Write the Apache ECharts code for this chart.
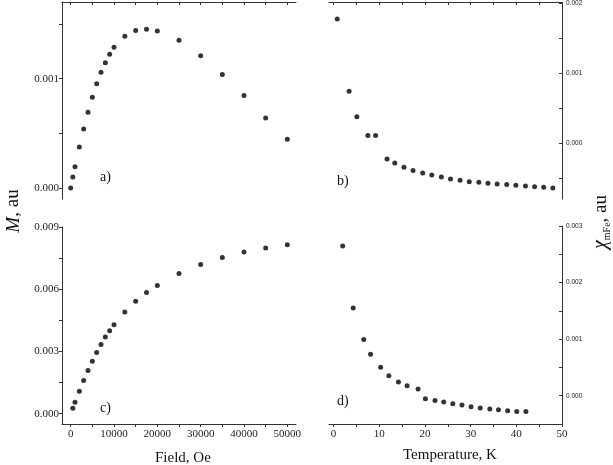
<!DOCTYPE html>
<html>
<head>
<meta charset="utf-8">
<script src="https://cdn.jsdelivr.net/npm/echarts@6/dist/echarts.min.js"></script>
<style>
  html, body { margin: 0; padding: 0; background: #fff; }
  #chart { width: 613px; height: 465px; }
</style>
</head>
<body>
<div id="chart"></div>
<script>
// a) and c): M vs field
const fieldA = [0, 500, 1000, 2000, 3000, 4000, 5000, 6000, 7000, 8000, 9000, 10000,
  12500, 15000, 17500, 20000, 25000, 30000, 35000, 40000, 45000, 50000]
const magA = [0.0000, 0.000101, 0.000195, 0.000375, 0.000540, 0.000692, 0.000829, 0.000954,
  0.001058, 0.001146, 0.001223, 0.001287, 0.001387, 0.001439, 0.001451, 0.001436,
  0.001351, 0.001210, 0.001037, 0.000845, 0.000640, 0.000445]

const fieldC = [500, 1000, 2000, 3000, 4000, 5000, 6000, 7000, 8000, 9000, 10000,
  12500, 15000, 17500, 20000, 25000, 30000, 35000, 40000, 45000, 50000]
const magC = [0.000258, 0.000548, 0.001081, 0.001597, 0.002081, 0.002532, 0.002952, 0.003339,
  0.003694, 0.004000, 0.004290, 0.004903, 0.005419, 0.005839, 0.006177, 0.006758,
  0.007194, 0.007532, 0.007790, 0.007984, 0.008145]

// b) and d): chi vs temperature
const tempB = [0.8, 3.4, 5.1, 7.5, 9.2, 11.7, 13.4, 15.4, 17.4, 19.5, 21.5, 23.6,
  25.6, 27.7, 29.7, 31.8, 33.8, 35.8, 37.9, 39.9, 42.0, 44.0, 46.0, 48.0]
const chiB = [0.001778, 0.000745, 0.000377, 0.000108, 0.000108, -0.000226, -0.000283, -0.000344,
  -0.000392, -0.000429, -0.000458, -0.000486, -0.000514, -0.000533, -0.000552, -0.000561,
  -0.000575, -0.000585, -0.000594, -0.000604, -0.000613, -0.000623, -0.000632, -0.000642]

const tempD = [2.0, 4.3, 6.6, 8.1, 10.3, 12.1, 14.2, 16.1, 18.5, 20.1, 22.2, 24.1,
  26.1, 28.1, 30.1, 32.1, 34.2, 36.1, 38.1, 40.1, 42.1]
const chiD = [0.002645, 0.001550, 0.000994, 0.000734, 0.000503, 0.000355, 0.000243, 0.000178,
  0.000118, -0.000053, -0.000083, -0.000112, -0.000142, -0.000166, -0.000195, -0.000219,
  -0.000237, -0.000249, -0.000266, -0.000278, -0.000278]

// tick labels and tick marks
const fieldLabels = [0, 10000, 20000, 30000, 40000, 50000]
const fieldTicks = [0, 5000, 10000, 15000, 20000, 25000, 30000, 35000, 40000, 45000, 50000]
const tempLabels = [0, 10, 20, 30, 40, 50]
const tempTicks = [0, 5, 10, 15, 20, 25, 30, 35, 40, 45, 50]
const magALabels = [0, 0.001]
const magATicks = [0, 0.0005, 0.001, 0.0015]
const magCLabels = [0, 0.003, 0.006, 0.009]
const magCTicks = [0, 0.0015, 0.003, 0.0045, 0.006, 0.0075, 0.009]
const chiBLabels = [0, 0.001, 0.002]
const chiBTicks = [-0.0005, 0, 0.0005, 0.001, 0.0015, 0.002]
const chiDLabels = [0, 0.001, 0.002, 0.003]
const chiDTicks = [0, 0.0005, 0.001, 0.0015, 0.002, 0.0025, 0.003]

const axisColor = '#333'
const serif = '"Liberation Serif", "Times New Roman", serif'
const sans = '"Liberation Sans", Arial, sans-serif'

function xAxis(grid, min, max, labels, ticks) {
  const showLabels = labels !== null
  return {
    type: 'value', gridIndex: grid, min: min, max: max, position: 'bottom',
    splitLine: { show: false },
    axisLine: { show: true, onZero: false, lineStyle: { color: axisColor, width: 1 } },
    axisTick: { show: true, inside: false, length: 3, customValues: ticks,
      lineStyle: { color: axisColor } },
    axisLabel: showLabels
      ? { show: true, customValues: labels, margin: 5, color: '#222', fontFamily: serif, fontSize: 11,
          formatter: v => String(v) }
      : { show: false }
  }
}

function hiddenX(grid, min, max) {
  return { type: 'value', gridIndex: grid, min: min, max: max, show: false }
}

function yAxis(grid, min, max, position, labels, ticks) {
  const left = position === 'left'
  return {
    type: 'value', gridIndex: grid, min: min, max: max, position: position,
    splitLine: { show: false },
    axisLine: { show: true, onZero: false, lineStyle: { color: axisColor, width: 1 } },
    axisTick: { show: true, inside: !left, length: 3, customValues: ticks,
      lineStyle: { color: axisColor } },
    axisLabel: {
      show: true, customValues: labels, margin: left ? 3 : 4, color: '#222',
      fontFamily: left ? serif : sans, fontSize: left ? 11 : 6.5,
      formatter: v => v.toFixed(3)
    }
  }
}

function hiddenY(grid) {
  return { type: 'value', gridIndex: grid, min: 0, max: 1, show: false }
}

// empty axis that only carries a rotated axis title
function titleY(grid, position, name, gap, rich) {
  return {
    type: 'value', gridIndex: grid, min: 0, max: 1, position: position,
    axisLine: { show: false }, axisTick: { show: false }, axisLabel: { show: false },
    splitLine: { show: false },
    name: name, nameLocation: 'middle', nameGap: gap, nameRotate: 90,
    nameTextStyle: { fontFamily: serif, fontSize: 19, color: '#111', rich: rich }
  }
}

function pts(xs, ys) {
  return xs.map((x, i) => [x, ys[i]])
}

function scatter(idx, data) {
  return {
    type: 'scatter', xAxisIndex: idx, yAxisIndex: idx, data: data,
    symbol: 'circle', symbolSize: 5, itemStyle: { color: '#000' }, silent: true
  }
}

function text(str, left, top, size) {
  return {
    text: str, left: left, top: top, padding: 0,
    textStyle: { fontFamily: serif, fontSize: size, fontWeight: 'normal', color: '#111' }
  }
}

// grids 0-3: panels a-d; 4-5: axis titles; 6-7: thin strips whose bottom axis is the top frame of a) and b)
const grids = [
  { left: 62, top: 2, width: 234, height: 197 },
  { left: 329, top: 2, width: 233, height: 197 },
  { left: 62, top: 227, width: 234, height: 197 },
  { left: 329, top: 226, width: 233, height: 198 },
  { left: 62, top: 171, width: 10, height: 80 },
  { left: 552, top: 182, width: 10, height: 80 },
  { left: 62, top: 0, width: 234, height: 2 },
  { left: 329, top: 0, width: 233, height: 2 }
]

const option = {
  animation: false,
  backgroundColor: '#fff',
  title: [
    text('a)', 100, 170, 14),
    text('b)', 337, 174, 14),
    text('c)', 100, 401, 14),
    text('d)', 337, 394, 14),
    text('Field, Oe', 155, 451, 15),
    text('Temperature, K', 403, 448, 15)
  ],
  grid: grids,
  xAxis: [
    hiddenX(0, -2000, 52000),
    hiddenX(1, -1, 50),
    xAxis(2, -2000, 52000, fieldLabels, fieldTicks),
    xAxis(3, -1, 50, tempLabels, tempTicks),
    hiddenX(4, 0, 1),
    hiddenX(5, 0, 1),
    xAxis(6, -2000, 52000, null, fieldTicks),
    xAxis(7, -1, 50, null, tempTicks)
  ],
  yAxis: [
    yAxis(0, -0.0001, 0.0017, 'left', magALabels, magATicks),
    yAxis(1, -0.0008, 0.002, 'right', chiBLabels, chiBTicks),
    yAxis(2, -0.0005, 0.009, 'left', magCLabels, magCTicks),
    yAxis(3, -0.0005, 0.003, 'right', chiDLabels, chiDTicks),
    titleY(4, 'left', '{i|M}, au', 39, {
      i: { fontFamily: serif, fontSize: 19, fontStyle: 'italic', color: '#111' }
    }),
    titleY(5, 'right', '{c|χ}{s|mFe}, au', 31, {
      c: { fontFamily: serif, fontSize: 20, fontStyle: 'italic', color: '#111', lineHeight: 22 },
      s: { fontFamily: serif, fontSize: 10, color: '#111', verticalAlign: 'bottom', lineHeight: 22 }
    }),
    hiddenY(6),
    hiddenY(7)
  ],
  series: [
    scatter(0, pts(fieldA, magA)),
    scatter(1, pts(tempB, chiB)),
    scatter(2, pts(fieldC, magC)),
    scatter(3, pts(tempD, chiD))
  ]
}

const chart = echarts.init(document.getElementById('chart'))
chart.setOption(option)
</script>
</body>
</html>
